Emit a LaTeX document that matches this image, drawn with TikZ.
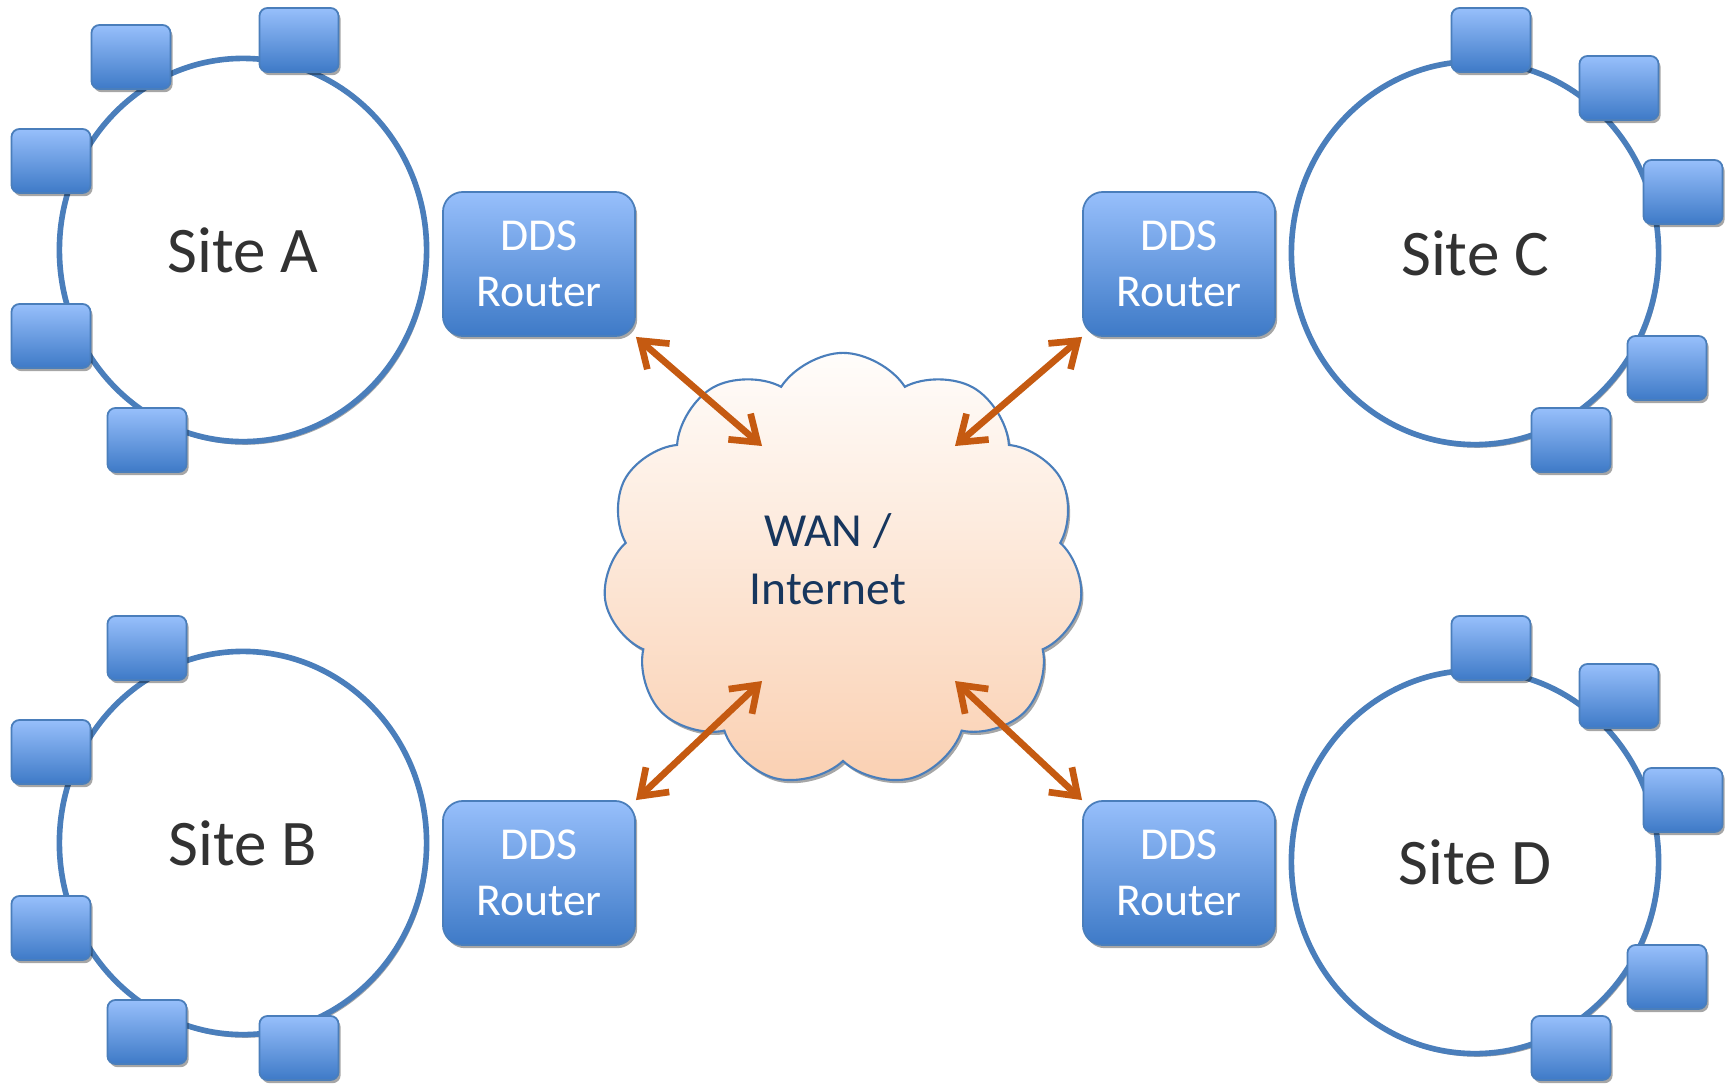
\documentclass[tikz,border=0pt]{standalone}
\usepackage{fontspec}
\setmainfont{Carlito}
\usetikzlibrary{positioning, shapes.geometric, shapes.symbols, shadows, arrows.meta}

\definecolor{ringblue}{RGB}{74,126,187}
\definecolor{boxtop}{RGB}{151,191,251}
\definecolor{boxbot}{RGB}{62,122,199}
\definecolor{linkorange}{RGB}{197,90,17}
\definecolor{wantop}{RGB}{255,253,251}
\definecolor{wanbot}{RGB}{250,208,178}
\definecolor{wanink}{RGB}{23,54,93}
\definecolor{siteink}{RGB}{50,50,50}

\tikzset{
  softshadow/.style={drop shadow={shadow xshift=0.6pt, shadow yshift=-0.9pt, fill=black, opacity=0.35}},
  site/.style={ellipse, draw=ringblue, line width=1.6pt, fill=white, softshadow,
    minimum width=3.67cm, minimum height=3.83cm, inner sep=0pt,
    text=siteink, font=\fontsize{18.5}{22}\selectfont},
  host/.style={rectangle, rounded corners=0.08cm, draw=ringblue, line width=0.5pt,
    top color=boxtop, bottom color=boxbot, softshadow,
    minimum width=0.79cm, minimum height=0.64cm, inner sep=0pt},
  router/.style={host, rounded corners=0.2cm, minimum width=1.92cm, minimum height=1.44cm,
    align=center, text=white, font=\fontsize{13}{16}\selectfont},
  wan/.style={cloud, cloud puffs=11, cloud puff arc=115, cloud ignores aspect,
    draw=ringblue, line width=0.6pt, top color=wantop, bottom color=wanbot, softshadow,
    minimum width=4.8cm, minimum height=4.34cm, inner sep=0pt},
  wantext/.style={align=center, text=wanink, font=\fontsize{13.5}{16.5}\selectfont},
  link/.style={<->, >={Straight Barb[length=0.24cm, width=0.34cm]}, draw=linkorange, line width=1.9pt}
}

\begin{document}
\begin{tikzpicture}[x=0.01cm, y=-0.01cm]
        \useasboundingbox (0,0) rectangle (1729,1084);
        %
        \node [site] (sa) at (243,250) {Site A};
        \node [site] (sb) at (243,843) {Site B};
        \node [site] (sc) at (1475,253) {Site C};
        \node [site] (sd) at (1475,862) {Site D};
        %
        \foreach \x/\y [count=\i] in {131/57, 299/40, 51/161, 51/336, 147/440}
          \node [host] (a\i) at (\x,\y) {};
        \foreach \x/\y [count=\i] in {147/648, 51/752, 51/928, 147/1032, 299/1048}
          \node [host] (b\i) at (\x,\y) {};
        \foreach \x/\y [count=\i] in {1491/40, 1619/88, 1683/192, 1667/368, 1571/440}
          \node [host] (c\i) at (\x,\y) {};
        \foreach \x/\y [count=\i] in {1491/648, 1619/696, 1683/800, 1667/977, 1571/1048}
          \node [host] (d\i) at (\x,\y) {};
        %
        \node [router] (ra) at (539,264) {DDS\\Router};
        \node [router] (rb) at (539,873) {DDS\\Router};
        \node [router] (rc) at (1179,264) {DDS\\Router};
        \node [router] (rd) at (1179,873) {DDS\\Router};
        %
        \node [wan] (wan) at (843,570) {};
        \node [wantext] (wanlbl) at (828,559) {WAN /\\Internet};
        %
        \coordinate (wa) at (762,446);
        \coordinate (wc) at (955,446);
        \coordinate (wb) at (762,681);
        \coordinate (wd) at (955,681);
        %
        \path (ra.south east) edge[link] (wa);
        \path (rc.south west) edge[link] (wc);
        \path (rb.north east) edge[link] (wb);
        \path (rd.north west) edge[link] (wd);
\end{tikzpicture}
\end{document}
